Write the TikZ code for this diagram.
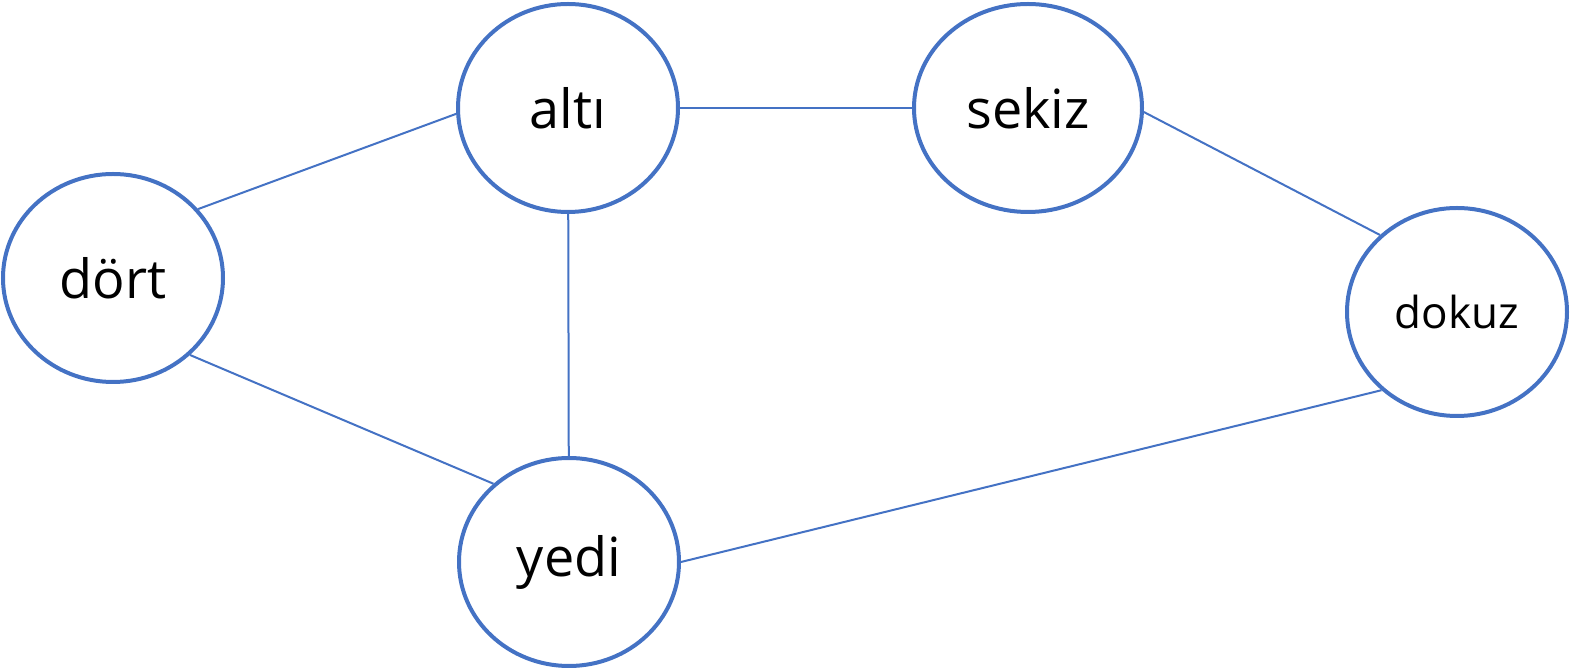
\documentclass[tikz,border=0pt]{standalone}
\usepackage{fontspec}
\setmainfont{Open Sans}
\usetikzlibrary{shapes.geometric}
\definecolor{nodeblue}{HTML}{4472C4}

\begin{document}
\begin{tikzpicture}[x=0.5pt, y=-0.5pt,
    vertex/.style={ellipse, draw=nodeblue, line width=2pt, minimum width=110pt, minimum height=104pt, inner sep=0pt, font=\fontsize{27}{32}\selectfont},
    edge/.style={draw=nodeblue, line width=1pt}]
    \useasboundingbox (0,0) rectangle (1576,672);

    % Nodes
    \node[vertex] (alti) at (568,108) {altı};
    \node[vertex, minimum width=114pt] (sekiz) at (1028,108) {sekiz};
    \node[vertex] (dort) at (113,278) {dört};
    \node[vertex, font=\fontsize{22}{26}\selectfont] (dokuz) at (1457,312) {dokuz};
    \node[vertex] (yedi) at (569,562) {yedi};

    % Edges
    \draw[edge] (dort.39) -- (alti.183);
    \draw[edge] (alti) -- (sekiz);
    \draw[edge] (sekiz.-2) -- (dokuz.135);
    \draw[edge] (alti) -- (yedi);
    \draw[edge] (dort.-45) -- (yedi.134);
    \draw[edge] (yedi.0) -- (dokuz.-134);
\end{tikzpicture}
\end{document}
